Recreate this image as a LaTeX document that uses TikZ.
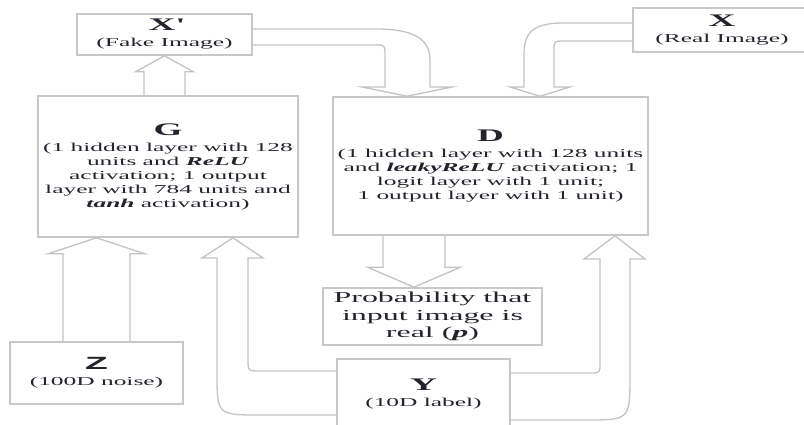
\documentclass[tikz,border=0pt]{standalone}
\usepackage{fontspec}
\usepackage{tikz}
\usetikzlibrary{calc,positioning}
\newfontfamily\wideserif[FakeStretch=2.1]{Liberation Serif}
\newfontfamily\widesans[FakeStretch=2.1]{Liberation Sans}
\definecolor{boxGray}{RGB}{200, 200, 200}
\definecolor{arrowGray}{RGB}{195, 195, 195}
\definecolor{inkGray}{RGB}{35, 35, 45}
\newcommand{\boxhead}[1]{{\fontsize{17.7}{14}\selectfont\bfseries #1}}

\begin{document}
\begin{tikzpicture}[
        x=1pt, y=-1pt,
        box/.style={rectangle, draw=boxGray, line width=1.6pt, align=center, inner sep=0pt,
            text=inkGray, font=\wideserif\fontsize{12.1}{14}\selectfont},
        blockarrow/.style={draw=arrowGray, line width=1.3pt, line join=miter}
    ]
        \useasboundingbox (0,0) rectangle (804,424);
        \clip (0,0) rectangle (804,424);

        % Boxes
        \node[box, minimum width=175pt, minimum height=41pt] (xf) at (164.5,34.5) {
            \boxhead{X\textquotesingle}\\[2pt]
            (Fake Image)
        };
        \node[box, minimum width=178pt, minimum height=44pt] (xr) at (722,30) {
            \boxhead{X}\\[2pt]
            (Real Image)
        };
        \node[box, minimum width=260pt, minimum height=141pt] (g) at (168,166.5) {
            \boxhead{G}\\[2pt]
            (1 hidden layer with 128\\
            units and \textbf{\textit{ReLU}}\\
            activation; 1 output\\
            layer with 784 units and\\
            \textbf{\textit{tanh}} activation)
        };
        \node[box, minimum width=315pt, minimum height=138pt] (d) at (490.5,166) {
            \boxhead{D}\\[2pt]
            (1 hidden layer with 128 units\\
            and \textbf{\textit{leakyReLU}} activation; 1\\
            logit layer with 1 unit;\\
            1 output layer with 1 unit)
        };
        \node[box, minimum width=219pt, minimum height=57pt,
            font=\wideserif\fontsize{15.2}{17.5}\selectfont] (p) at (432.5,316.5) {
            Probability that\\
            input image is\\
            real (\textbf{\textit{p}})
        };
        \node[box, minimum width=173pt, minimum height=62pt] (z) at (96.5,373) {
            \boxhead{\widesans Z}\\[2pt]
            (100D noise)
        };
        \node[box, minimum width=173pt, minimum height=70pt] (y) at (423.5,394) {
            \boxhead{Y}\\[2pt]
            (10D label)
        };

        % Arrow tips
        \coordinate (ptip) at ($(p.north)+(-18.5,0)$);
        \coordinate (gtip) at ($(g.south)+(65,0)$);
        \coordinate (dtipy) at ($(d.south)+(124.5,0)$);
        \coordinate (dtipf) at ($(d.north)+(-83.5,0)$);
        \coordinate (dtipr) at ($(d.north)+(49.5,0)$);

        % Straight block arrows
        \draw[blockarrow] ($(z.north)+(-33.5,0)$) |- ($(z.north |- g.south)+(-48.5,16)$)
            -- (z.north |- g.south) -- ($(z.north |- g.south)+(48.5,16)$) -| ($(z.north)+(33.5,0)$);
        \draw[blockarrow] ($(xf.south |- g.north)+(-20.5,0)$) |- ($(xf.south)+(-29,16)$)
            -- (xf.south) -- ($(xf.south)+(29,16)$) -| ($(xf.south |- g.north)+(20.5,0)$);
        \draw[blockarrow] ($(ptip |- d.south)+(-31,0)$) |- ($(ptip)+(-46.5,-20)$)
            -- (ptip) -- ($(ptip)+(46.5,-20)$) -| ($(ptip |- d.south)+(31,0)$);

        % Bent block arrows
        \draw[blockarrow] ($(y.west)+(0,-23)$) -- (260,371) .. controls (248,371) .. (248,359)
            -- (248,258) -- (263,258) -- (gtip) -- (202,258) -- (217,258)
            -- (217,372) .. controls (217,415) .. (260,415) -- ($(y.west)+(0,21)$);
        \draw[blockarrow] ($(y.east)+(0,-21)$) -- (590,373) .. controls (600,373) .. (600,363)
            -- (600,259) -- (584,259) -- (dtipy) -- (645,259) -- (630,259)
            -- (630,375) .. controls (630,420) .. (585,420) -- ($(y.east)+(0,26)$);
        \draw[blockarrow] ($(xf.east)+(0,-5.5)$) -- (377,29) .. controls (415,29) and (430,40) .. (430,60)
            -- (430,87) -- (452,87) -- (dtipf) -- (362,87) -- (385,87)
            -- (385,55) .. controls (385,45) .. (375,45) -- ($(xf.east)+(0,10.5)$);
        \draw[blockarrow] ($(xr.west)+(0,-7)$) -- (563,23) .. controls (530,23) and (524,35) .. (524,55)
            -- (524,87) -- (510,87) -- (dtipr) -- (570,87) -- (554,87)
            -- (554,51) .. controls (554,41) .. (564,41) -- ($(xr.west)+(0,11)$);

    \end{tikzpicture}
\end{document}
